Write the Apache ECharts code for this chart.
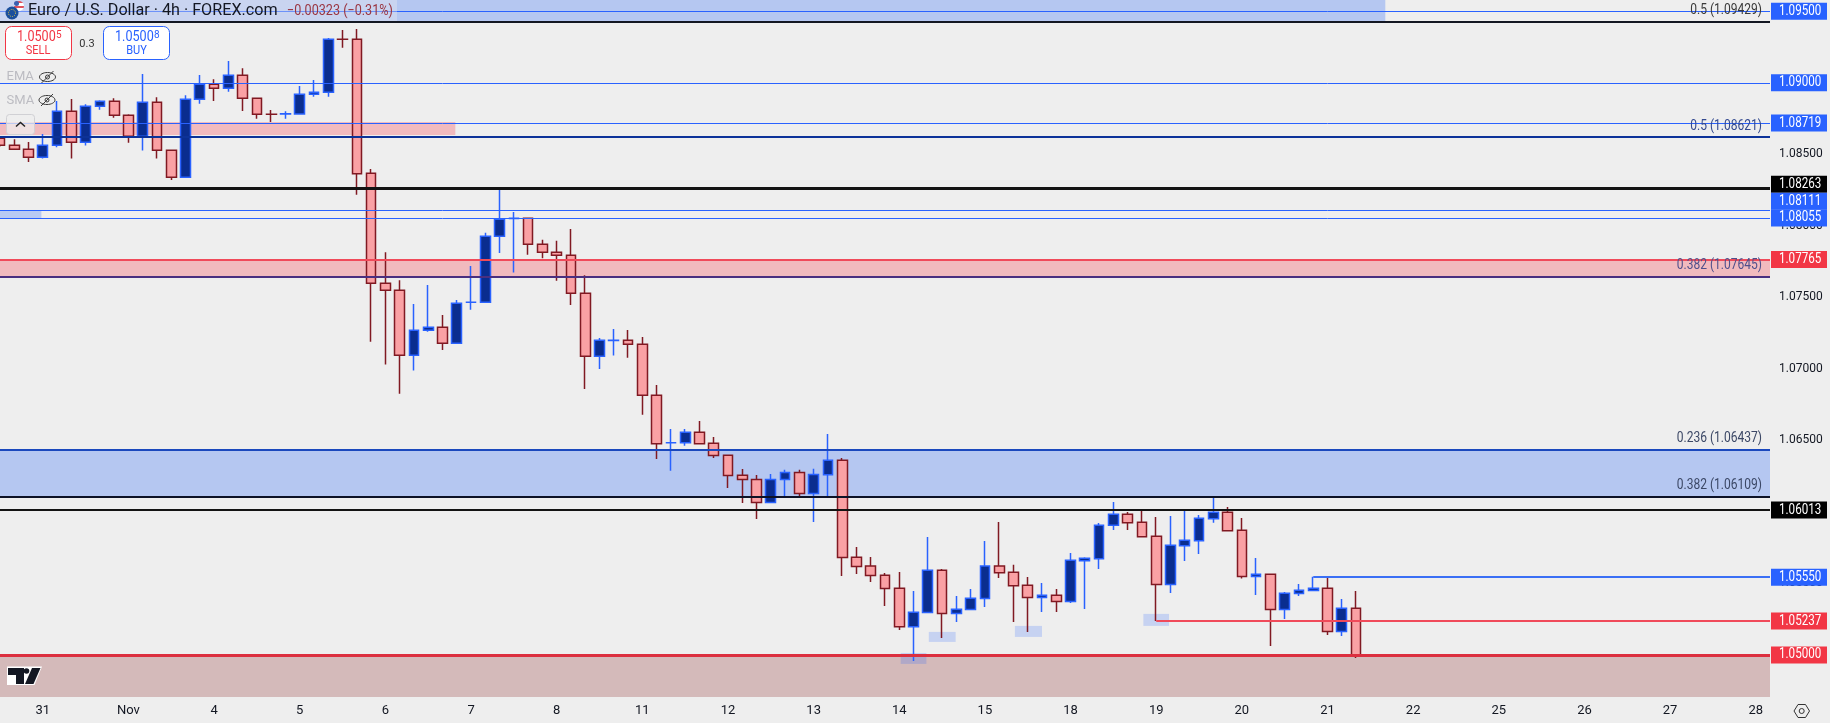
<!DOCTYPE html>
<html>
<head>
<meta charset="utf-8">
<title>Euro / U.S. Dollar 4h</title>
<script src="https://cdn.jsdelivr.net/npm/echarts@6/dist/echarts.min.js"></script>
<style>
html,body{margin:0;padding:0;background:#eeeeee;}
#chart{width:1830px;height:723px;}
</style>
</head>
<body>
<div id="chart"></div>
<script>
// 4h candles
var opens = [
1.08612,1.08563,1.08535,1.08479,1.08563,1.08801,1.08584,1.08836,1.08871,1.08773,
1.08626,1.08864,1.08528,1.08340,1.08885,1.08990,1.08962,1.09053,1.08892,1.08781,
1.08782,1.08782,1.08920,1.08934,1.09305,1.09304,1.08368,1.07599,1.07550,1.07096,
1.07270,1.07291,1.07179,1.07465,1.07466,1.07927,1.08052,1.08053,1.07871,1.07815,
1.07794,1.07529,1.07088,1.07199,1.07200,1.07172,1.06816,1.06483,1.06484,1.06557,
1.06480,1.06396,1.06257,1.06226,1.06065,1.06226,1.06276,1.06128,1.06259,1.06362,
1.05683,1.05621,1.05558,1.05467,1.05198,1.05296,1.05592,1.05289,1.05317,1.05394,
1.05621,1.05578,1.05487,1.05401,1.05418,1.05373,1.05659,1.05673,1.05907,1.05984,
1.05928,1.05830,1.05492,1.05764,1.05799,1.05953,1.05998,1.05872,1.05548,1.05564,
1.05317,1.05429,1.05450,1.05467,1.05164,1.05326];
var closes = [
1.08563,1.08535,1.08479,1.08563,1.08801,1.08584,1.08836,1.08871,1.08773,1.08626,
1.08864,1.08528,1.08340,1.08885,1.08990,1.08962,1.09053,1.08892,1.08780,1.08780,
1.08783,1.08920,1.08934,1.09304,1.09304,1.08365,1.07599,1.07550,1.07096,1.07270,
1.07291,1.07179,1.07459,1.07466,1.07927,1.08046,1.08053,1.07871,1.07815,1.07794,
1.07529,1.07088,1.07200,1.07200,1.07172,1.06816,1.06477,1.06484,1.06557,1.06477,
1.06394,1.06254,1.06226,1.06065,1.06226,1.06276,1.06128,1.06262,1.06362,1.05681,
1.05618,1.05555,1.05464,1.05198,1.05299,1.05592,1.05289,1.05320,1.05397,1.05621,
1.05575,1.05484,1.05401,1.05418,1.05373,1.05662,1.05676,1.05907,1.05984,1.05925,
1.05827,1.05492,1.05767,1.05802,1.05956,1.05998,1.05869,1.05548,1.05564,1.05317,
1.05432,1.05453,1.05467,1.05164,1.05326,1.05002];
var lows = [
1.08551,1.08535,1.08447,1.08470,1.08549,1.08470,1.08561,1.08812,1.08756,1.08581,
1.08526,1.08470,1.08321,1.08340,1.08854,1.08873,1.08938,1.08803,1.08749,1.08726,
1.08749,1.08777,1.08903,1.08903,1.09246,1.08218,1.07190,1.07030,1.06827,1.06988,
1.07260,1.07132,1.07179,1.07414,1.07466,1.07811,1.07673,1.07798,1.07773,1.07617,
1.07447,1.06860,1.07000,1.07093,1.07077,1.06680,1.06370,1.06287,1.06463,1.06477,
1.06377,1.06168,1.06063,1.05951,1.06065,1.06107,1.06100,1.05930,1.06098,1.05552,
1.05566,1.05510,1.05343,1.05175,1.04958,1.05296,1.05119,1.05231,1.05317,1.05336,
1.05538,1.05231,1.05161,1.05301,1.05301,1.05364,1.05322,1.05601,1.05874,1.05874,
1.05827,1.05238,1.05433,1.05657,1.05706,1.05925,1.05869,1.05534,1.05419,1.05063,
1.05252,1.05412,1.05450,1.05140,1.05133,1.04979];
var highs = [
1.08628,1.08605,1.08586,1.08642,1.08873,1.08887,1.08850,1.08878,1.08892,1.08780,
1.09062,1.08899,1.08528,1.08913,1.09055,1.09025,1.09153,1.09102,1.08892,1.08810,
1.08801,1.08978,1.09020,1.09313,1.09369,1.09376,1.08398,1.07815,1.07620,1.07454,
1.07587,1.07377,1.07482,1.07720,1.07951,1.08251,1.08097,1.08053,1.07902,1.07895,
1.07978,1.07655,1.07216,1.07279,1.07272,1.07223,1.06888,1.06580,1.06580,1.06636,
1.06524,1.06396,1.06300,1.06258,1.06265,1.06294,1.06294,1.06301,1.06545,1.06377,
1.05755,1.05685,1.05573,1.05580,1.05447,1.05825,1.05601,1.05412,1.05461,1.05797,
1.05930,1.05630,1.05545,1.05503,1.05461,1.05713,1.05683,1.05923,1.06070,1.06000,
1.06009,1.05965,1.05972,1.06014,1.05979,1.06105,1.06035,1.05958,1.05678,1.05564,
1.05440,1.05496,1.05547,1.05547,1.05391,1.05447];

// time axis: one label per day, six 4h bars a day, first label on bar 3
var dayLabels = ['31','Nov','4','5','6','7','8','11','12','13','14','15','18','19','20','21','22','25','26','27','28'];
var categories = [];
for (var n = 0; n < 125; n++) {
  var d = n - 3;
  categories.push(d >= 0 && d % 6 === 0 ? dayLabels[d / 6] : '');
}

var priceTicks = [1.085,1.08,1.075,1.07,1.065,1.06,1.055];

var blueLevels = [1.095,1.09,1.08719,1.08111,1.08055];
var blackLevels = [1.08263,1.06013];
var fibLevels = [1.09429,1.08621,1.07645,1.06437,1.06109];
var fibRatios = ['0.5','0.5','0.382','0.236','0.382'];
var supportLevels = [1.07765,1.05];
var swingHigh = 1.0555;
var swingLow = 1.05237;

var zoneStart = [0,0,0,0,0,0];
var zoneEnd = [97.05,31.9,2.9,124,124,124];
var zoneTop = [1.09579,1.08726,1.08105,1.07765,1.06437,1.05];
var zoneBottom = [1.09429,1.08636,1.08055,1.07635,1.06109,1.04706];

var spotStart = [63.1,65.07,71.1,80.1];
var spotEnd = [64.9,66.95,73,81.9];
var spotTop = [1.05014,1.05161,1.05203,1.05287];
var spotBottom = [1.04937,1.05091,1.05126,1.05203];

var tagPrices = [1.095,1.09,1.08719,1.08263,1.08111,1.08055,1.07765,1.06013,1.0555,1.05237,1.05];

// ---- styles, same order as the lists above
var BLUE = '#2962ff', RED = '#f23645', INK = '#131722';
var fibColors = ['#131722','#0c3299','#4a2f80','#1a48bd','#0d1226'];
var fibTextColors = ['#3a3a3a','#33498f','#50508c','#3c4866','#3c4866'];
var zoneColors = ['#b5c7f1','#f1babe','#b9caf3','#f1babe','#b5c7f1','#d4baba'];
var tagColors = [BLUE,BLUE,BLUE,'#000000',BLUE,BLUE,RED,'#000000',BLUE,RED,RED];
var tagShift = [0,0,0,-4,-8.6,0,0,0,1,0,0];   // tags pushed apart where they would overlap

function hLine(x1, x2, price, color, width) {
  return [{coord:[x1,price],lineStyle:{color:color,width:width,type:'solid',opacity:1}},{coord:[x2,price]}];
}

var lines = [];
blueLevels.forEach(function(p){ lines.push(hLine(0,124,p,BLUE,1)); });
blackLevels.forEach(function(p,i){ lines.push(hLine(0,124,p,'#131313',i === 0 ? 3 : 2)); });
fibLevels.forEach(function(p,i){ lines.push(hLine(0,124,p,fibColors[i],2)); });
lines.push(hLine(0,124,supportLevels[0],'#f04a5a',2));
lines.push(hLine(0,124,supportLevels[1],'#dc2f3f',3));
lines.push(hLine(92,124,swingHigh,'#3a6ff5',2));
lines.push(hLine(81,124,swingLow,'#f04a5a',2));

var areas = zoneStart.map(function(s,i){
  return [{coord:[s,zoneTop[i]],itemStyle:{color:zoneColors[i]}},{coord:[zoneEnd[i],zoneBottom[i]]}];
});
var spots = spotStart.map(function(s,i){
  return [{coord:[s,spotTop[i]],itemStyle:{color:'rgba(41,98,255,0.2)'}},{coord:[spotEnd[i],spotBottom[i]]}];
});

var candleData = opens.map(function(o,i){ return [o,closes[i],lows[i],highs[i]]; });

function eye(cx, cy) {
  return [
    {type:'ellipse',shape:{cx:cx,cy:cy,rx:8,ry:4.5},style:{fill:'none',stroke:'#3a3a3a',lineWidth:1},z:30},
    {type:'circle',shape:{cx:cx,cy:cy,r:2},style:{fill:'none',stroke:'#3a3a3a',lineWidth:1},z:30},
    {type:'line',shape:{x1:cx-6,y1:cy+6,x2:cx+6,y2:cy-6},style:{stroke:'#3a3a3a',lineWidth:1},z:30}
  ];
}
function txt(x, y, s, font, fill, align, scale) {
  return {type:'text',x:x,y:y,z:31,scaleX:scale || 1,style:{text:s,font:font,fill:fill,align:align || 'left',verticalAlign:'middle'}};
}

var widgets = [
  {type:'rect',shape:{x:0,y:0,width:397,height:21},style:{fill:'rgba(238,238,238,0.35)'},z:29},
  {type:'circle',shape:{cx:19,cy:6,r:5},style:{fill:{type:'linear',x:0,y:0,x2:0,y2:1,colorStops:[
    {offset:0,color:'#e0525c'},{offset:.25,color:'#e0525c'},{offset:.25,color:'#ffffff'},{offset:.5,color:'#ffffff'},
    {offset:.5,color:'#e0525c'},{offset:.75,color:'#e0525c'},{offset:.75,color:'#ffffff'},{offset:1,color:'#ffffff'}]}},z:30},
  {type:'circle',shape:{cx:16.5,cy:3.5,r:2.5},style:{fill:'#3a5fb0'},z:30},
  {type:'circle',shape:{cx:12,cy:13,r:6.5},style:{fill:'#1b4f9c'},z:31},
  {type:'circle',shape:{cx:12,cy:13,r:3.5},style:{fill:'none',stroke:'#e8c840',lineWidth:1,lineDash:[1,1.2]},z:32},
  txt(28,11,'Euro / U.S. Dollar · 4h · FOREX.com','16px Roboto',INK,'left',1.01),
  txt(287,11,'\u22120.00323 (\u22120.31%)','15px Roboto','#9a3440','left',0.84),

  {type:'rect',shape:{x:5.5,y:26.5,width:66,height:33,r:6},style:{fill:'#ffffff',stroke:RED,lineWidth:1},z:30},
  txt(17,37,'1.0500','14px Roboto',RED,'left',0.9),
  txt(56,35,'5','10px Roboto',RED),
  txt(38,51,'SELL','13px Roboto',RED,'center',0.85),
  txt(87,44,'0.3','11px Roboto','#333333','center'),
  {type:'rect',shape:{x:103.5,y:26.5,width:66,height:33,r:6},style:{fill:'#ffffff',stroke:BLUE,lineWidth:1},z:30},
  txt(115,37,'1.0500','14px Roboto',BLUE,'left',0.9),
  txt(154,35,'8','10px Roboto',BLUE),
  txt(136.5,51,'BUY','13px Roboto',BLUE,'center',0.85),

  txt(6.5,77,'EMA','13px Roboto','#bcbcc2'),
  txt(6.5,101,'SMA','13px Roboto','#bcbcc2'),
  {type:'rect',shape:{x:6.5,y:114.5,width:28,height:20,r:3},style:{fill:'rgba(238,238,238,0.75)',stroke:'#d0d0d4',lineWidth:1},z:30},
  {type:'polyline',shape:{points:[[16,126.5],[20.5,122.5],[25,126.5]]},style:{fill:'none',stroke:'#222222',lineWidth:1.5},z:31},

  // logo
  {type:'polygon',shape:{points:[[7,666.5],[42,666.5],[34.5,685],[7,685]]},style:{fill:'#ffffff'},z:30},
  {type:'polygon',shape:{points:[[8,668],[24,668],[24,684],[16,684],[16,675],[8,675]]},style:{fill:INK},z:31},
  {type:'circle',shape:{cx:26.5,cy:671,r:2.8},style:{fill:INK},z:31},
  {type:'polygon',shape:{points:[[32,668],[40.5,668],[33.5,684],[25,684]]},style:{fill:INK},z:31},

  // settings icon
  {type:'polygon',shape:{points:[[1794,711],[1798,704.5],[1805.5,704.5],[1809.5,711],[1805.5,717.5],[1798,717.5]]},style:{fill:'none',stroke:'#333333',lineWidth:1},z:30},
  {type:'circle',shape:{cx:1801.7,cy:711,r:2.5},style:{fill:'none',stroke:'#333333',lineWidth:1},z:30}
].concat(eye(47.5,77),eye(47,100));

var chart = echarts.init(document.getElementById('chart'));
chart.setOption({
  animation: false,
  backgroundColor: '#eeeeee',
  grid: {left:-1.5, top:0, width:1771.5, height:697},
  xAxis: [
    {type:'category', data:categories, boundaryGap:false,
     axisLine:{show:false}, axisTick:{show:false}, splitLine:{show:false},
     axisLabel:{interval:function(i,v){ return v !== ''; }, color:INK, fontFamily:'Roboto', fontSize:13, margin:7}},
    {type:'value', min:0, max:124, show:false, splitLine:{show:false}}
  ],
  yAxis: {
    type:'value', position:'right', min:1.04706, max:1.09579, scale:true,
    axisLine:{show:false}, axisTick:{show:false}, splitLine:{show:false},
    axisLabel:{customValues:priceTicks, color:INK, fontFamily:'Roboto', fontSize:12, margin:9,
      formatter:function(v){ return v.toFixed(5); }}
  },
  graphic: {elements:widgets},
  series: [
    {type:'line', xAxisIndex:1, data:[], z:1, silent:true,
     markArea:{silent:true, data:areas}},
    {type:'line', xAxisIndex:1, data:[], z:2, silent:true,
     markLine:{silent:true, symbol:['none','none'], label:{show:false}, data:lines}},
    {type:'candlestick', xAxisIndex:0, z:3, barWidth:10.2, data:candleData,
     itemStyle:{color:'#0a2d8f', color0:'#faa1a4', borderColor:BLUE, borderColor0:'#801922', borderWidth:1.5}},
    {type:'line', xAxisIndex:1, data:[], z:4, silent:true,
     markArea:{silent:true, data:spots}},
    // fib captions, sitting just above their lines at the right edge
    {type:'custom', xAxisIndex:1, z:5, silent:true,
     data:fibLevels.map(function(p,i){ return [124,p,i]; }), encode:{x:0,y:1},
     renderItem:function(params,api){
       var pt = api.coord([api.value(0),api.value(1)]), i = api.value(2);
       return {type:'text',x:pt[0]-8,y:pt[1]-11,scaleX:0.86,style:{
         text:fibRatios[i]+' ('+fibLevels[i].toFixed(5)+')',
         font:'14px Roboto',fill:fibTextColors[i],align:'right',verticalAlign:'middle'}};
     }},
    // price tags in the axis column
    {type:'custom', xAxisIndex:1, z:6, silent:true,
     data:tagPrices.map(function(p,i){ return [124,p,i]; }), encode:{x:0,y:1},
     renderItem:function(params,api){
       var pt = api.coord([api.value(0),api.value(1)]), i = api.value(2);
       var y = pt[1]+tagShift[i];
       return {type:'group',children:[
         {type:'rect',shape:{x:pt[0]+1,y:y-8.5,width:56,height:17},style:{fill:tagColors[i]}},
         {type:'text',x:pt[0]+9,y:y,scaleX:0.83,style:{text:tagPrices[i].toFixed(5),font:'14px Roboto',fill:'#ffffff',verticalAlign:'middle'}}
       ]};
     }}
  ]
});
</script>
</body>
</html>
